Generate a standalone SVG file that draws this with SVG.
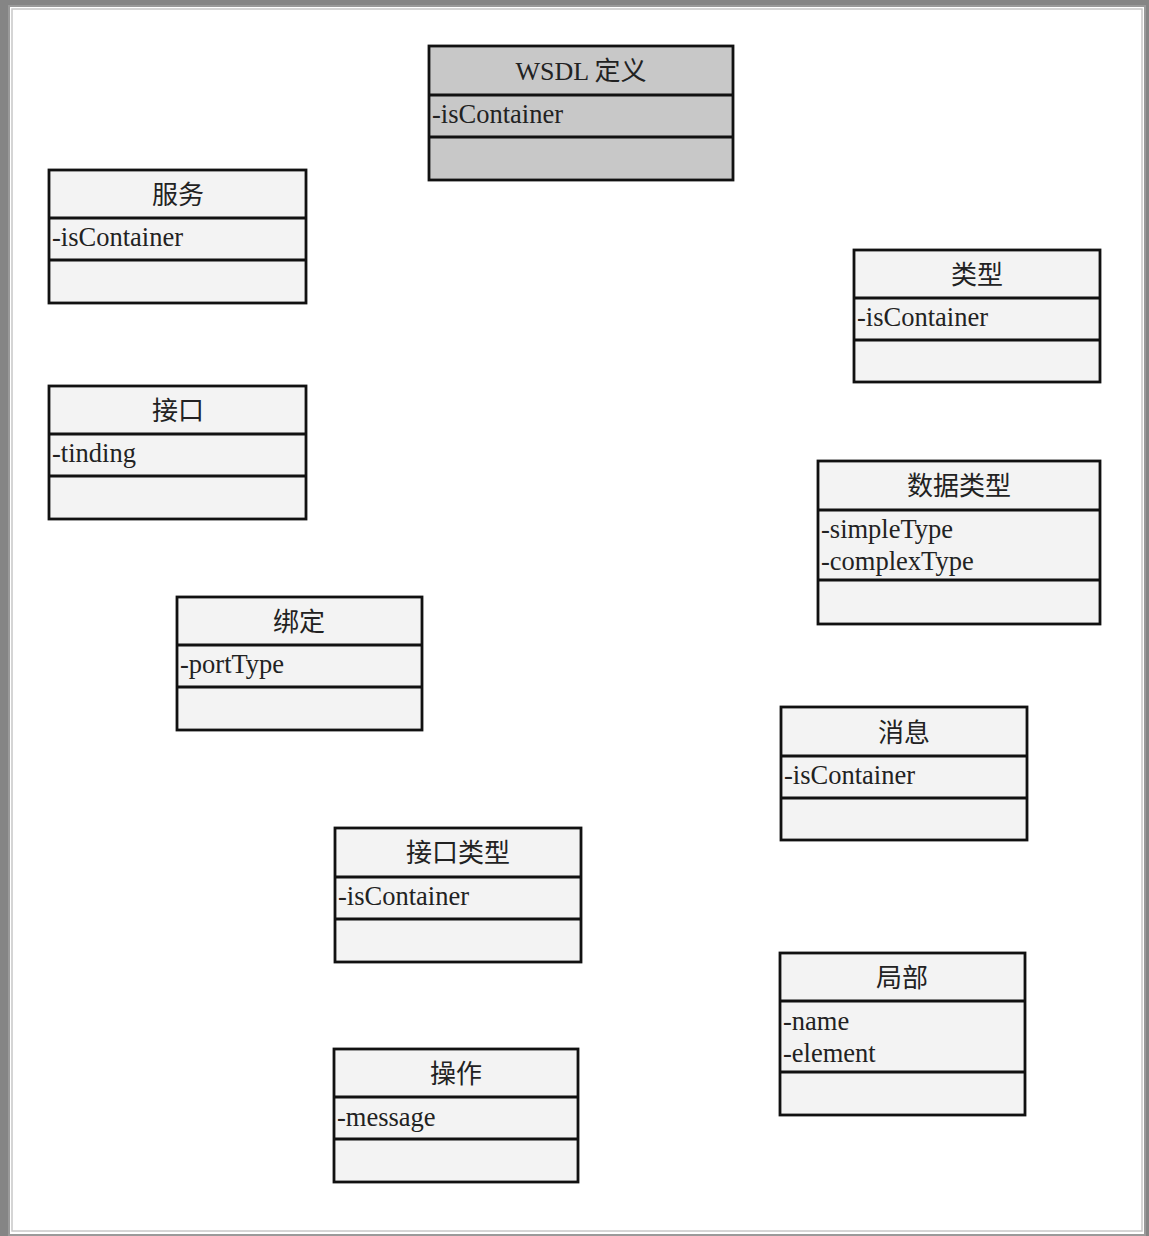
<svg xmlns="http://www.w3.org/2000/svg" width="1149" height="1236" viewBox="0 0 1149 1236">
<style>
.box{fill:#f3f3f3;stroke:#111;stroke-width:2.8}
.root{fill:#c8c8c8}
.div{stroke:#111;stroke-width:2.8}
.title{font-family:"Liberation Serif","Noto Sans CJK SC",serif;font-size:26px;fill:#222;text-anchor:middle}
.attr{font-family:"Liberation Serif","Noto Sans CJK SC",serif;font-size:26.5px;fill:#222}
</style>
<rect x="0" y="0" width="1149" height="1236" fill="#858585"/>
<rect x="9" y="6" width="1136" height="1229" fill="#ffffff" stroke="#9a9a9a" stroke-width="2"/>
<rect x="12" y="9" width="1130" height="1222" fill="none" stroke="#c8c8c8" stroke-width="1.5"/>
<g id="connectors"></g>
<g id="wsdl">
<rect class="box root" x="429" y="46" width="304" height="134"/>
<line class="div" x1="429" y1="95" x2="733" y2="95"/>
<line class="div" x1="429" y1="137" x2="733" y2="137"/>
<text class="title" x="581" y="80">WSDL 定义</text>
<text class="attr" x="432" y="123">-isContainer</text>
</g>
<g id="service">
<rect class="box" x="49" y="170" width="257" height="133"/>
<line class="div" x1="49" y1="218" x2="306" y2="218"/>
<line class="div" x1="49" y1="260" x2="306" y2="260"/>
<text class="title" x="178" y="204">服务</text>
<text class="attr" x="52" y="246">-isContainer</text>
</g>
<g id="types">
<rect class="box" x="854" y="250" width="246" height="132"/>
<line class="div" x1="854" y1="298" x2="1100" y2="298"/>
<line class="div" x1="854" y1="340" x2="1100" y2="340"/>
<text class="title" x="977" y="284">类型</text>
<text class="attr" x="857" y="326">-isContainer</text>
</g>
<g id="interface">
<rect class="box" x="49" y="386" width="257" height="133"/>
<line class="div" x1="49" y1="434" x2="306" y2="434"/>
<line class="div" x1="49" y1="476" x2="306" y2="476"/>
<text class="title" x="178" y="420">接口</text>
<text class="attr" x="52" y="462">-tinding</text>
</g>
<g id="datatype">
<rect class="box" x="818" y="461" width="282" height="163"/>
<line class="div" x1="818" y1="510" x2="1100" y2="510"/>
<line class="div" x1="818" y1="580" x2="1100" y2="580"/>
<text class="title" x="959" y="495">数据类型</text>
<text class="attr" x="821" y="538">-simpleType</text>
<text class="attr" x="821" y="570">-complexType</text>
</g>
<g id="binding">
<rect class="box" x="177" y="597" width="245" height="133"/>
<line class="div" x1="177" y1="645" x2="422" y2="645"/>
<line class="div" x1="177" y1="687" x2="422" y2="687"/>
<text class="title" x="299" y="631">绑定</text>
<text class="attr" x="180" y="673">-portType</text>
</g>
<g id="message">
<rect class="box" x="781" y="707" width="246" height="133"/>
<line class="div" x1="781" y1="756" x2="1027" y2="756"/>
<line class="div" x1="781" y1="798" x2="1027" y2="798"/>
<text class="title" x="904" y="742">消息</text>
<text class="attr" x="784" y="784">-isContainer</text>
</g>
<g id="porttype">
<rect class="box" x="335" y="828" width="246" height="134"/>
<line class="div" x1="335" y1="877" x2="581" y2="877"/>
<line class="div" x1="335" y1="919" x2="581" y2="919"/>
<text class="title" x="458" y="862">接口类型</text>
<text class="attr" x="338" y="905">-isContainer</text>
</g>
<g id="part">
<rect class="box" x="780" y="953" width="245" height="162"/>
<line class="div" x1="780" y1="1001" x2="1025" y2="1001"/>
<line class="div" x1="780" y1="1072" x2="1025" y2="1072"/>
<text class="title" x="902" y="987">局部</text>
<text class="attr" x="783" y="1030">-name</text>
<text class="attr" x="783" y="1062">-element</text>
</g>
<g id="operation">
<rect class="box" x="334" y="1049" width="244" height="133"/>
<line class="div" x1="334" y1="1097" x2="578" y2="1097"/>
<line class="div" x1="334" y1="1139" x2="578" y2="1139"/>
<text class="title" x="456" y="1083">操作</text>
<text class="attr" x="337" y="1126">-message</text>
</g>
</svg>
